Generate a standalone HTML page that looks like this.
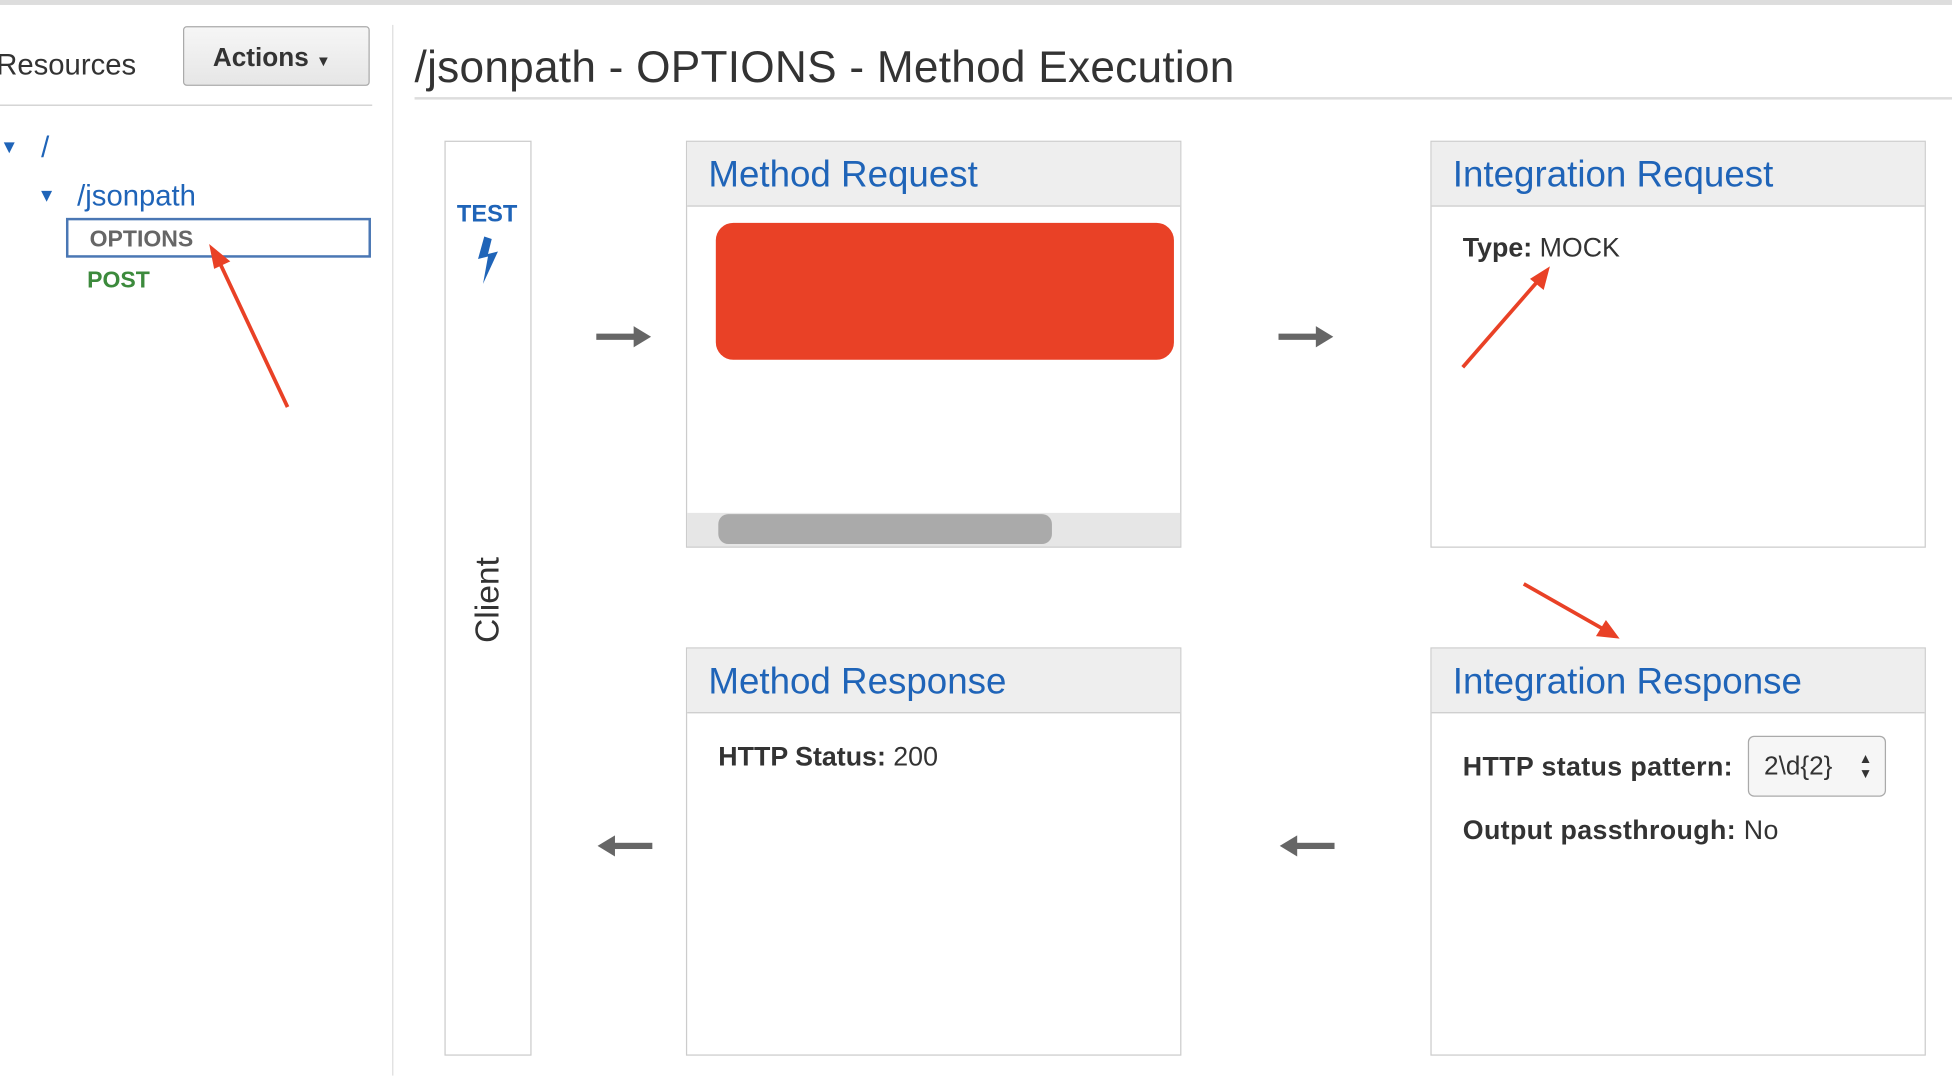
<!DOCTYPE html>
<html><head><meta charset="utf-8"><style>
html,body{margin:0;padding:0;width:1952px;height:1076px;overflow:hidden;background:#fff}
#s{position:absolute;left:0;top:0;width:1568px;height:864px;transform:scale(1.2449);transform-origin:0 0;font-family:"Liberation Sans",sans-serif;color:#333}
.a{position:absolute}
.box{position:absolute;border:1px solid #ccc;background:#fff;box-sizing:border-box}
.hd{position:absolute;left:0;right:0;top:0;height:51px;background:#eeeeee;border-bottom:1px solid #ccc;color:#1f64b8;font-size:29.5px;padding-left:17px;line-height:53px}
</style></head><body><div id="s">
<div class="a" style="left:0;top:0;width:1568px;height:4px;background:#ddd"></div>
<div class="a" style="left:-3px;top:39px;font-size:23.5px;color:#333">Resources</div>
<div class="a" style="left:147px;top:21px;width:150px;height:48px;border:1px solid #aaa;border-radius:3px;background:linear-gradient(#f6f6f6,#e6e6e6);box-sizing:border-box;font-size:21px;font-weight:bold;line-height:50px;padding-left:23px">Actions <span style="font-size:12px">▼</span></div>
<div class="a" style="left:0;top:84px;width:299px;height:1px;background:#ccc"></div>
<div class="a" style="left:315px;top:20px;width:1px;height:844px;background:#ddd"></div>
<div class="a" style="left:0;top:110px;color:#1f64b8;font-size:15px">▼</div>
<div class="a" style="left:33px;top:105px;color:#1f64b8;font-size:23.5px">/</div>
<div class="a" style="left:30px;top:149px;color:#1f64b8;font-size:15px">▼</div>
<div class="a" style="left:62px;top:144px;color:#1f64b8;font-size:23.5px">/jsonpath</div>
<div class="a" style="left:53px;top:175px;width:245px;height:32px;border:2px solid #4a77b4;box-sizing:border-box;font-size:18.5px;font-weight:bold;color:#666;padding-left:17px;line-height:29px">OPTIONS</div>
<div class="a" style="left:70px;top:214px;font-size:18.5px;font-weight:bold;color:#3c8a3c">POST</div>
<div class="a" style="left:333px;top:34px;font-size:35.5px;color:#333;letter-spacing:0.2px">/jsonpath - OPTIONS - Method Execution</div>
<div class="a" style="left:333px;top:78px;width:1235px;height:2px;background:#ddd"></div>
<div class="box" style="left:357px;top:113px;width:70px;height:735px"></div>
<div class="a" style="left:367px;top:162px;color:#1f64b8;font-size:19px;font-weight:bold">TEST</div>
<svg class="a" style="left:380px;top:190px" width="24" height="40"><polygon points="9,0 4,18 12,16 8,38 20,12 12,14 15,2" fill="#1f64b8"/></svg>
<div class="a" style="left:392px;top:482px;transform:translate(-50%,-50%) rotate(-90deg);font-size:27px;color:#333;white-space:nowrap">Client</div>
<div class="box" style="left:551px;top:113px;width:398px;height:327px"><div class="hd">Method Request</div>
<div class="a" style="left:0;right:0;bottom:0;height:27px;background:#e6e6e6"></div>
<div class="a" style="left:25px;bottom:2px;width:268px;height:24px;background:#aaa;border-radius:8px"></div></div>
<div class="a" style="left:575px;top:179px;width:368px;height:110px;background:#e94126;border-radius:14px"></div>
<div class="box" style="left:1149px;top:113px;width:398px;height:327px"><div class="hd">Integration Request</div>
<div class="a" style="left:25px;top:73px;font-size:21.5px"><b>Type:</b> MOCK</div></div>
<div class="box" style="left:551px;top:520px;width:398px;height:328px"><div class="hd">Method Response</div>
<div class="a" style="left:25px;top:75px;font-size:21.5px"><b>HTTP Status:</b> 200</div></div>
<div class="box" style="left:1149px;top:520px;width:398px;height:328px"><div class="hd">Integration Response</div>
<div class="a" style="left:25px;top:83px;font-size:21.5px;letter-spacing:0.3px"><b>HTTP status pattern:</b></div>
<div class="a" style="left:254px;top:70px;width:111px;height:49px;border:1px solid #aaa;border-radius:5px;background:#f6f6f6;box-sizing:border-box;font-size:21px;line-height:47px;padding-left:12px">2\d{2} <span style="font-size:11px;position:absolute;right:10px;line-height:12px;top:12px">▲<br>▼</span></div>
<div class="a" style="left:25px;top:134px;font-size:21.5px;letter-spacing:0.3px"><b>Output passthrough:</b> No</div></div>
<svg class="a" style="left:0;top:0" width="1568" height="864">
<g fill="#666"><rect x="479" y="268" width="32" height="5"/><polygon points="509,262 523,270.5 509,279"/>
<rect x="1027" y="268" width="32" height="5"/><polygon points="1057,262 1071,270.5 1057,279"/>
<rect x="492" y="677" width="32" height="5"/><polygon points="494,671 480,679.5 494,688"/>
<rect x="1040" y="677" width="32" height="5"/><polygon points="1042,671 1028,679.5 1042,688"/></g>
<g stroke="#e94126" stroke-width="3" fill="#e94126">
<line x1="231" y1="327" x2="176" y2="210"/><polygon points="168,196 185,210 172,216" stroke="none"/>
<line x1="1175" y1="295" x2="1236" y2="225"/><polygon points="1245,214 1240,233 1229,224" stroke="none"/>
<line x1="1224" y1="469" x2="1289" y2="506"/><polygon points="1301,513 1282,511 1290,498" stroke="none"/></g>
</svg>
</div></body></html>
